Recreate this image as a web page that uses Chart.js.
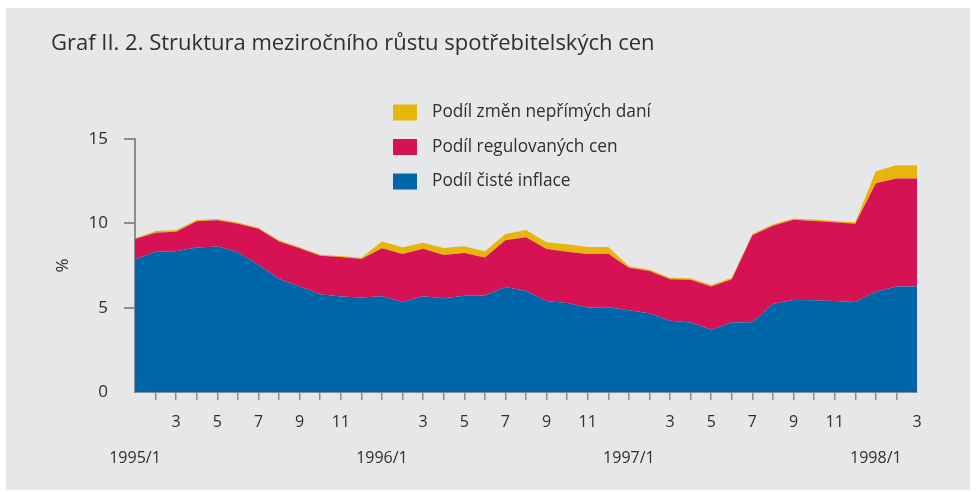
<!DOCTYPE html>
<html>
<head>
<meta charset="utf-8">
<script src="https://cdn.jsdelivr.net/npm/chart.js@4/dist/chart.umd.min.js"></script>
<style>
  html, body { margin: 0; padding: 0; background: #ffffff; }
  #wrap { position: relative; width: 976px; height: 492px; }
</style>
</head>
<body>
<div id="wrap"><canvas id="chart" width="976" height="492"></canvas></div>
<script>
// měsíce 1995/1 – 1998/3
const months = [
  "1995/1", "1995/2", "1995/3", "1995/4", "1995/5", "1995/6", "1995/7", "1995/8", "1995/9", "1995/10", "1995/11", "1995/12",
  "1996/1", "1996/2", "1996/3", "1996/4", "1996/5", "1996/6", "1996/7", "1996/8", "1996/9", "1996/10", "1996/11", "1996/12",
  "1997/1", "1997/2", "1997/3", "1997/4", "1997/5", "1997/6", "1997/7", "1997/8", "1997/9", "1997/10", "1997/11", "1997/12",
  "1998/1", "1998/2", "1998/3"
];

// podíl čisté inflace (modrá)
const coreInflation = [
  7.87, 8.32, 8.34, 8.56, 8.62, 8.28, 7.53, 6.70, 6.25, 5.80, 5.66, 5.60,
  5.68, 5.34, 5.68, 5.56, 5.70, 5.72, 6.23, 5.99, 5.40, 5.27, 5.01, 5.03,
  4.85, 4.67, 4.22, 4.12, 3.69, 4.12, 4.14, 5.21, 5.46, 5.44, 5.40, 5.34,
  5.95, 6.25, 6.25
];

// podíl regulovaných cen (červená)
const regulatedPrices = [
  1.20, 1.12, 1.16, 1.56, 1.56, 1.70, 2.15, 2.23, 2.27, 2.28, 2.34, 2.29,
  2.84, 2.84, 2.82, 2.56, 2.54, 2.25, 2.76, 3.18, 3.08, 3.05, 3.17, 3.17,
  2.52, 2.51, 2.47, 2.53, 2.56, 2.57, 5.15, 4.65, 4.75, 4.70, 4.66, 4.64,
  6.42, 6.41, 6.41
];

// podíl změn nepřímých daní (žlutá)
const indirectTaxes = [
  0.04, 0.10, 0.10, 0.08, 0.08, 0.07, 0.06, 0.07, 0.06, 0.06, 0.06, 0.07,
  0.41, 0.40, 0.35, 0.42, 0.40, 0.37, 0.38, 0.43, 0.40, 0.44, 0.42, 0.40,
  0.08, 0.09, 0.09, 0.10, 0.10, 0.09, 0.08, 0.08, 0.08, 0.08, 0.08, 0.08,
  0.72, 0.79, 0.79
];

const yTicks = [0, 5, 10, 15];

const FONT = "'Open Sans', 'Noto Sans', sans-serif";
const TEXT = "#2f2f2f";
const AXIS = "#8c8c8c";

// šedý podklad, nadpis a legenda
const framePlugin = {
  id: "frame",
  beforeDraw(chart) {
    const ctx = chart.ctx;
    ctx.save();
    ctx.fillStyle = "#ffffff";
    ctx.fillRect(0, 0, chart.width, chart.height);
    ctx.fillStyle = "#e6e7e9";
    ctx.fillRect(6, 8, 964, 482);
    ctx.fillStyle = TEXT;
    ctx.font = "22px " + FONT;
    ctx.textBaseline = "middle";
    ctx.fillText("Graf II. 2. Struktura meziročního růstu spotřebitelských cen", 51, 44);
    ctx.restore();
  },
  afterDraw(chart) {
    const ctx = chart.ctx;
    ctx.save();
    ctx.font = "17.3px " + FONT;
    ctx.textBaseline = "middle";
    const sets = chart.data.datasets.slice().reverse();
    sets.forEach((ds, i) => {
      const cy = 112.5 + i * 34.5;
      ctx.fillStyle = ds.backgroundColor;
      ctx.fillRect(393, cy - 8, 24, 16);
      ctx.fillStyle = TEXT;
      ctx.fillText(ds.label, 432, cy);
    });
    ctx.restore();
  }
};

function area(label, data, color, fill) {
  return {
    label: label,
    data: data,
    backgroundColor: color,
    borderColor: color,
    borderWidth: 0,
    pointRadius: 0,
    tension: 0,
    fill: fill
  };
}

new Chart(document.getElementById("chart"), {
  type: "line",
  data: {
    labels: months,
    datasets: [
      area("Podíl čisté inflace", coreInflation, "#0066aa", "origin"),
      area("Podíl regulovaných cen", regulatedPrices, "#d61254", "-1"),
      area("Podíl změn nepřímých daní", indirectTaxes, "#e8b60b", "-1")
    ]
  },
  options: {
    responsive: false,
    animation: false,
    layout: { padding: { left: 50, right: 59, top: 139, bottom: 0 } },
    plugins: {
      legend: { display: false },
      title: { display: false },
      tooltip: { enabled: false }
    },
    scales: {
      x: {
        offset: false,
        afterFit(scale) { scale.height = 100; },
        border: { color: AXIS, width: 2 },
        grid: {
          drawOnChartArea: false,
          tickLength: 8,
          lineWidth: 1.5,
          color: (c) => (c.index === 0 || c.index === months.length - 1 ? "rgba(0,0,0,0)" : AXIS)
        },
        ticks: {
          autoSkip: false,
          maxRotation: 0,
          padding: 4,
          color: TEXT,
          font: { family: FONT, size: 16, lineHeight: 2.25 },
          callback(value, index) {
            const [year, m] = months[index].split("/");
            if (m === "1") return ["", year + "/1"];
            return Number(m) % 2 === 1 ? String(m) : "";
          }
        }
      },
      y: {
        stacked: true,
        min: 0,
        max: 15,
        afterFit(scale) { scale.width = 85; },
        afterBuildTicks(scale) { scale.ticks = yTicks.map((v) => ({ value: v })); },
        border: { color: AXIS, width: 2 },
        grid: {
          drawOnChartArea: false,
          tickLength: 11,
          lineWidth: 2,
          color: (c) => (c.tick && c.tick.value === 0 ? "rgba(0,0,0,0)" : AXIS)
        },
        ticks: {
          padding: 16,
          color: TEXT,
          font: { family: FONT, size: 17 }
        },
        title: {
          display: true,
          text: "%",
          color: TEXT,
          padding: { top: 3, bottom: 0 },
          font: { family: FONT, size: 17 }
        }
      }
    }
  },
  plugins: [framePlugin]
});
</script>
</body>
</html>
